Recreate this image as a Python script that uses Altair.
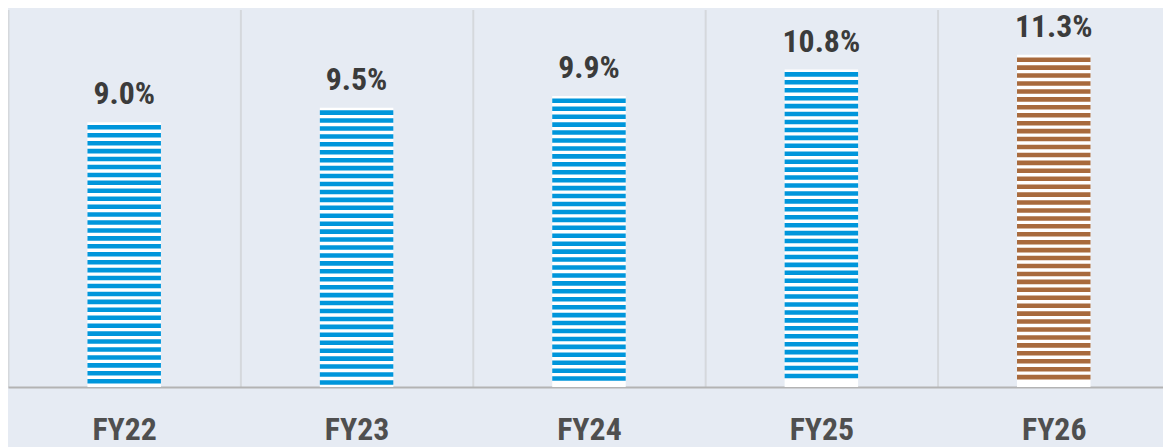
import altair as alt
import pandas as pd

categories = ["FY22", "FY23", "FY24", "FY25", "FY26"]
values = [9.0, 9.5, 9.9, 10.8, 11.3]
bar_colors = ["#0096DB", "#0096DB", "#0096DB", "#0096DB", "#A86A3D"]

# stripe pattern (style of the hatch, in data units)
STRIPE_PERIOD = 0.27
STRIPE_FILL = 0.155

bars = pd.DataFrame({"cat": categories, "value": values, "color": bar_colors})

rows = []
for c, v, col in zip(categories, values, bar_colors):
    top = v - 0.09
    while top - STRIPE_FILL >= 0.03:
        rows.append({"cat": c, "y0": top - STRIPE_FILL, "y1": top, "color": col})
        top -= STRIPE_PERIOD
stripes = pd.DataFrame(rows)

FONT = "Roboto Condensed"
BAR_W = 74

x = alt.X(
    "cat:N",
    sort=categories,
    scale=alt.Scale(range=[0, 1170], paddingInner=0, paddingOuter=0),
    axis=alt.Axis(
        title=None, labelAngle=0, tickBand="extent", grid=True,
        gridColor="#d5d8dc", gridWidth=2,
        domainColor="#b3b3b3", domainWidth=2,
        ticks=False, tickSize=0, labelPadding=28,
        labelFont=FONT, labelFontSize=32, labelFontWeight="bold",
        labelColor="#4f4f4f",
    ),
)
yscale = alt.Scale(domain=[0, 12.84], nice=False)

base_bar = alt.Chart(bars).mark_bar(color="#ffffff", width=BAR_W).encode(
    x=x,
    y=alt.Y("value:Q", scale=yscale, axis=None),
)

stripe_layer = alt.Chart(stripes).mark_bar(width=BAR_W).encode(
    x=x,
    y=alt.Y("y0:Q", scale=yscale, axis=None),
    y2="y1:Q",
    color=alt.Color("color:N", scale=None),
)

text = alt.Chart(bars).transform_calculate(
    label="format(datum.value, '.1f') + '%'"
).mark_text(
    font=FONT, fontSize=32, fontWeight="bold", color="#3b3b3b",
    baseline="alphabetic", dy=-18,
).encode(
    x=x,
    y=alt.Y("value:Q", scale=yscale, axis=None),
    text="label:N",
)

chart = alt.layer(base_bar, stripe_layer, text).properties(
    width=1163,
    height=380,
    autosize=alt.AutoSizeParams(type="none"),
    padding={"left": 0, "top": 0, "right": 0, "bottom": 59},
    background="#e6ebf3",
).configure_view(stroke=None)

chart.save("out.html", embed_options={"renderer": "svg", "actions": False})
